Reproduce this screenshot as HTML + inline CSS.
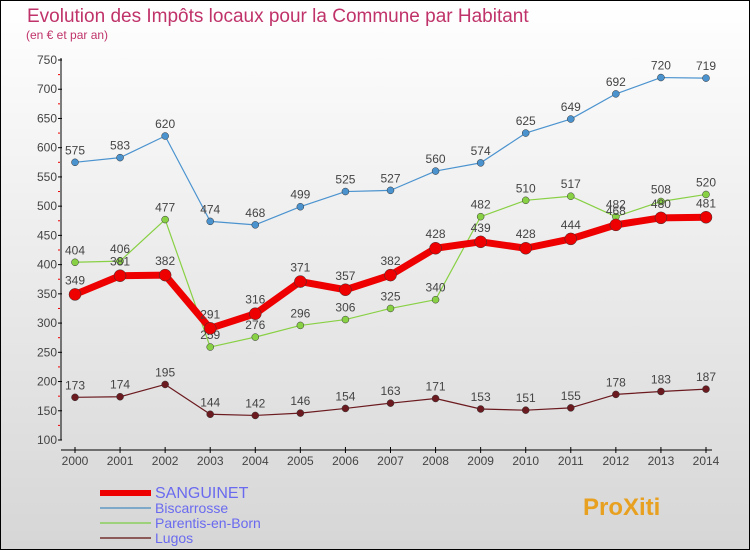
<!DOCTYPE html>
<html><head><meta charset="utf-8"><style>
body{margin:0;width:750px;height:550px;overflow:hidden}
svg{display:block;font-family:"Liberation Sans",sans-serif}
</style></head><body>
<svg id="c" width="750" height="550">
<defs><linearGradient id="bg" x1="0" y1="0" x2="0" y2="1"><stop offset="0" stop-color="#ffffff"/><stop offset="1" stop-color="#d6d6d6"/></linearGradient></defs>
<rect x="0.5" y="0.5" width="749" height="549" fill="url(#bg)" stroke="#000"/>
<text x="27" y="22" font-size="19" fill="#c0336a">Evolution des Impôts locaux pour la Commune par Habitant</text>
<text x="26" y="39" font-size="12" fill="#c0336a">(en € et par an)</text>
<g id="axes"></g><g id="series"></g><g id="legend"></g>
</svg>
<script>
const years=[2000,2001,2002,2003,2004,2005,2006,2007,2008,2009,2010,2011,2012,2013,2014];
const yTicks=[100,150,200,250,300,350,400,450,500,550,600,650,700,750];
const sanguinet=[349,381,382,291,316,371,357,382,428,439,428,444,468,480,481];
const biscarrosse=[575,583,620,474,468,499,525,527,560,574,625,649,692,720,719];
const parentis=[404,406,477,259,276,296,306,325,340,482,510,517,482,508,520];
const lugos=[173,174,195,144,142,146,154,163,171,153,151,155,178,183,187];
const NS='http://www.w3.org/2000/svg';
function X(i){return 75+i*(706-75)/14;}
function Y(v){return 440-(v-100)*380/650;}
function mk(t,a,p){const e=document.createElementNS(NS,t);for(const k in a)e.setAttribute(k,a[k]);p.appendChild(e);return e;}
const ax=document.getElementById('axes');
let l=mk('line',{x1:61,y1:58,x2:61,y2:440,stroke:'#000'},ax);


l=mk('line',{x1:61,y1:450,x2:712,y2:450,stroke:'#000'},ax);


yTicks.forEach((v,i)=>{const y=Y(v);
 mk('line',{x1:58,y1:y,x2:62,y2:y,stroke:'#000'},ax);
 if(i<yTicks.length-1)mk('line',{x1:58,y1:Y(v+25),x2:60,y2:Y(v+25),stroke:'#e00'},ax);
 const t=mk('text',{x:57,y:y+4,'font-size':12,'text-anchor':'end',fill:'#444'},ax);t.textContent=v;
 
 });
years.forEach((yr,i)=>{const x=X(i);
 mk('line',{x1:x,y1:447,x2:x,y2:453,stroke:'#000'},ax);
 const t=mk('text',{x:x,y:465,'font-size':12,'text-anchor':'middle',fill:'#444'},ax);t.textContent=yr;
 
 });
const sg=document.getElementById('series');
function draw(data,color,lw,r,name,labelDy){
 const g=mk('g',{},sg);
 
 
 mk('polyline',{points:data.map((v,i)=>X(i)+','+Y(v)).join(' '),fill:'none',stroke:color,'stroke-width':lw,'stroke-linejoin':'round'},g);
 data.forEach((v,i)=>{const c=mk('circle',{cx:X(i),cy:Y(v),r:r,fill:color,stroke:'#333','stroke-width':0.5},g);
  
  
  const t=mk('text',{x:X(i),y:Y(v)+labelDy,'font-size':12,'text-anchor':'middle',fill:'#444'},g);t.textContent=v;
  
  });
}
draw(lugos,'#6b1a1f',1.2,3.5,'lugos',-8);
draw(parentis,'#88d044',1.2,3.5,'parentis',-8);
draw(biscarrosse,'#4b93cf',1.2,3.5,'biscarrosse',-8);
draw(sanguinet,'#ee0000',7,6,'sanguinet',-10);
const lg=document.getElementById('legend');
[['SANGUINET','#ee0000',6,16],['Biscarrosse','#7fa9c9',2,14],['Parentis-en-Born','#9ed27a',2,14],['Lugos','#8d5a5a',2,14]].forEach((d,i)=>{
 const y=493+i*15;
 const g=mk('g',{},lg);
 
 
 mk('line',{x1:100,y1:y,x2:151,y2:y,stroke:d[1],'stroke-width':d[2]},g);
 const t=mk('text',{x:155,y:y+5,'font-size':d[3],fill:'#6a6af0'},g);t.textContent=d[0];
});
const p=mk('text',{x:583,y:515,'font-size':24,'font-weight':'bold',fill:'#e8a020'},lg);
p.textContent='ProXiti';


</script>
</body></html>
